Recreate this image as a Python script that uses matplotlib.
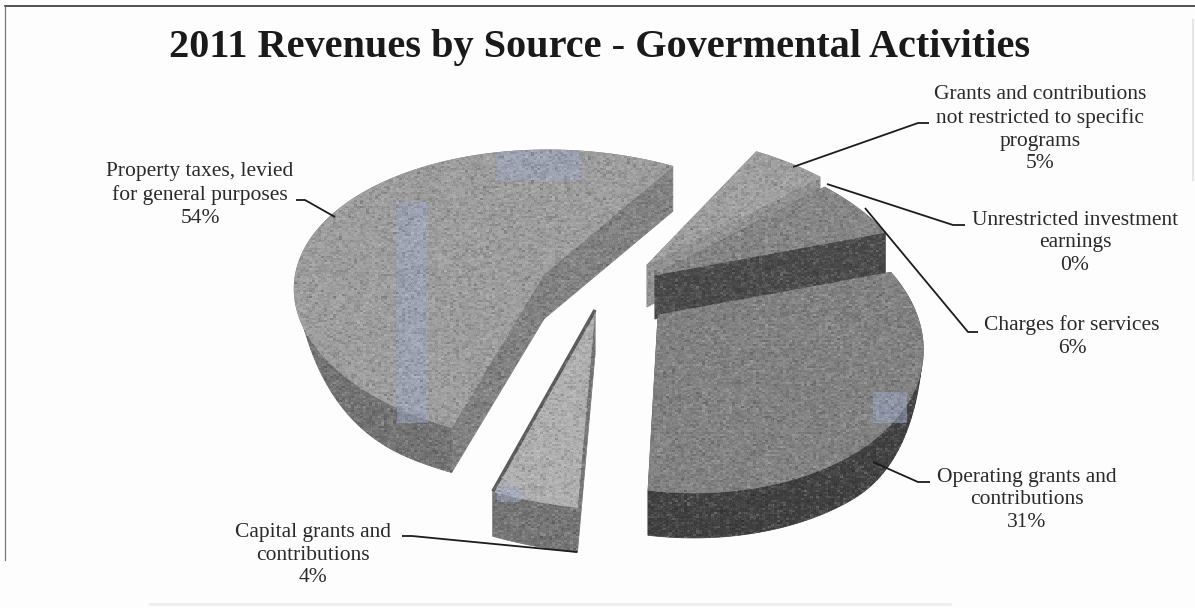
import numpy as np
import matplotlib
matplotlib.use("Agg")
import matplotlib.pyplot as plt
from matplotlib.patches import Polygon
from matplotlib.path import Path

# Revenue shares, clockwise from the lower edge of the operating grants slice
sources = ["Capital grants", "Property taxes", "Grants unrestricted",
           "Investment earnings", "Charges for services", "Operating grants"]
shares = [4, 54, 5, 0, 6, 31]

title = "2011 Revenues by Source - Govermental Activities"
labels = {
    "Grants unrestricted": "Grants and contributions\nnot restricted to specific\nprograms\n5%",
    "Investment earnings": "Unrestricted investment\nearnings\n0%",
    "Charges for services": "Charges for services\n6%",
    "Operating grants": "Operating grants and\ncontributions\n31%",
    "Capital grants": "Capital grants and\ncontributions\n4%",
    "Property taxes": "Property taxes, levied\nfor general purposes\n54%",
}
label_pos = {
    "Grants unrestricted": (1040, 129),
    "Investment earnings": (1075, 243),
    "Charges for services": (1072, 337),
    "Operating grants": (1027, 500),
    "Capital grants": (313, 555),
    "Property taxes": (200, 195),
}
leaders = {
    "Grants unrestricted": [(793, 167), (918, 123), (929, 123)],
    "Investment earnings": [(827, 184), (953, 225), (965, 225)],
    "Charges for services": [(865, 208), (968, 332), (978, 332)],
    "Operating grants": [(873, 462), (918, 482), (930, 482)],
    "Capital grants": [(402, 536), (412, 536), (577, 552)],
    "Property taxes": [(296, 200), (305, 200), (335, 217)],
}

# Exploded apex of each slice, its local stretch of the disc, its wall depth
apex = {
    "Capital grants": (595, 310),
    "Property taxes": (544, 274),
    "Grants unrestricted": (647, 265),
    "Charges for services": (655, 275),
    "Operating grants": (658, 315),
}
warp = {
    "Capital grants": ((1.22, -0.10), (0.0, 1.126)),
    "Property taxes": ((1.071, -0.104), (0.007, 0.957)),
    "Grants unrestricted": ((1.0, 0.0), (0.0, 1.0)),
    "Charges for services": ((0.98, 0.0), (0.0, 1.0)),
    "Operating grants": ((0.98, -0.057), (0.0, 1.0)),
}
depth = {
    "Capital grants": 45,
    "Property taxes": 45,
    "Grants unrestricted": 42,
    "Charges for services": 44,
    "Operating grants": 45,
}
# top face, radial wall, rim wall
colours = {
    "Capital grants": ("#b0b0b0", "#767676", "#747474"),
    "Property taxes": ("#9e9e9e", "#828282", "#727272"),
    "Grants unrestricted": ("#a0a0a0", "#929292", "#8a8a8a"),
    "Charges for services": ("#868686", "#4a4a4a", "#6e6e6e"),
    "Operating grants": ("#828282", "#505050", "#404040"),
}
paint_order = ["Property taxes", "Grants unrestricted", "Charges for services",
               "Capital grants", "Operating grants"]

A, C, D = 248, 14, 149   # disc axes on screen
PX, PY = 0.08, 0.15      # perspective foreshortening
TAPER_FROM, TAPER_LEN = 55, 85   # rim walls fade out towards the sides of the disc


def disc(phi):
    """Project disc angles (radians, clockwise on screen) to pixel offsets."""
    x, y = np.cos(phi), np.sin(phi)
    w = 1 / (1 - PX * x - PY * y)
    return np.column_stack([A * x * w, (C * x + D * y) * w])


def taper(offset):
    t = np.clip((offset - TAPER_FROM) / TAPER_LEN, 0, 1)
    return np.sin(t * np.pi / 2)


W, H = 1195, 608
fig = plt.figure(figsize=(W / 100, H / 100), dpi=100, facecolor="#fdfdfd")
ax = fig.add_axes([0, 0, 1, 1])
ax.set_xlim(0, W)
ax.set_ylim(H, 0)
ax.axis("off")

# Slice angles follow from the shares
end_angle = np.cumsum(shares) / sum(shares) * 360 + 90
start_angle = end_angle - np.array(shares) / sum(shares) * 360
spans = {s: (a, b) for s, a, b in zip(sources, start_angle, end_angle)}


def add_to_mask(mask, poly):
    poly = np.asarray(poly)
    x0, y0 = np.floor(poly.min(axis=0)).astype(int)
    x1, y1 = np.ceil(poly.max(axis=0)).astype(int) + 1
    x0, y0, x1, y1 = max(x0, 0), max(y0, 0), min(x1, W), min(y1, H)
    gx, gy = np.meshgrid(np.arange(x0, x1) + 0.5, np.arange(y0, y1) + 0.5)
    inside = Path(poly).contains_points(np.column_stack([gx.ravel(), gy.ravel()]))
    mask[y0:y1, x0:x1] |= inside.reshape(gx.shape)


slice_mask = {}
z = 2
for name in paint_order:
    a0, a1 = spans[name]
    rim = disc(np.radians(np.linspace(a0, a1, max(int(a1 - a0), 4))))
    rim = np.array(apex[name]) + rim @ np.array(warp[name]).T
    centre = np.array(apex[name], dtype=float)
    top, edge, rim_col = colours[name]
    drop = np.array([0, depth[name]])
    rim_drop = [drop * taper(p[1] - centre[1]) for p in rim]
    quads = [([p, q, q + drop, p + drop], edge)
             for p, q in ((centre, rim[0]), (rim[-1], centre))]
    quads += [([p, q, q + dq, p + dp], rim_col)
              for p, q, dp, dq in zip(rim[:-1], rim[1:], rim_drop[:-1], rim_drop[1:])]
    quads.sort(key=lambda t: np.mean([v[1] for v in t[0]]))
    mask = np.zeros((H, W), dtype=bool)
    for pts, col in quads:
        ax.add_patch(Polygon(pts, closed=True, fc=col, ec=col, lw=0.5, zorder=z))
        add_to_mask(mask, pts)
    outline = np.vstack([centre, rim])
    ax.add_patch(Polygon(outline, closed=True, fc=top, ec=top, lw=0.5, zorder=z + 0.5))
    add_to_mask(mask, outline)
    slice_mask[name] = mask
    if name == "Capital grants":
        # the narrow slice shows a dark sliver along its left edge
        ax.plot([centre[0], rim[-1][0]], [centre[1], rim[-1][1]], color="#5c5c5c",
                lw=2.5, zorder=z + 0.6, solid_capstyle="butt")
    z += 1

solid = np.any(list(slice_mask.values()), axis=0)

# Bluish smudges lying on the slices
smudges = [("Property taxes", 397, 202, 31, 221),
           ("Property taxes", 497, 150, 84, 30),
           ("Operating grants", 873, 392, 34, 31),
           ("Capital grants", 497, 487, 24, 15)]
tint = np.zeros((H, W, 4))
for name, x, y, w, h in smudges:
    box = np.zeros((H, W), dtype=bool)
    box[y:y + h, x:x + w] = True
    box &= slice_mask[name]
    tint[box] = (0.62, 0.66, 0.78, 0.55)
ax.imshow(tint, extent=(0, W, H, 0), zorder=9, interpolation="nearest", aspect="auto")

# Scanner grain over the solids, coarser along the scan lines
rng = np.random.default_rng(11)
coarse = rng.normal(0, 1, (H // 2 + 1, W // 3 + 1))
grain = np.repeat(np.repeat(coarse, 2, axis=0), 3, axis=1)[:H, :W]
grain += 0.5 * rng.normal(0, 1, (H, W))
overlay = np.zeros((H, W, 4))
overlay[..., :3] = (grain > 0)[..., None]
overlay[..., 3] = np.clip(np.abs(grain) * 0.07, 0, 0.22) * solid
ax.imshow(overlay, extent=(0, W, H, 0), zorder=10, interpolation="bilinear", aspect="auto")
ax.set_xlim(0, W)
ax.set_ylim(H, 0)

# Leader lines and labels
ink = "#1c1c1c"
for name, pts in leaders.items():
    xs, ys = zip(*pts)
    ax.plot(xs, ys, color=ink, lw=1.3, zorder=12, solid_capstyle="butt")
for name, text in labels.items():
    x, y = label_pos[name]
    ax.text(x, y, text, ha="center", va="center", family="Liberation Serif",
            fontsize=15.5, color="#2a2a2a", linespacing=1.28, zorder=13)

ax.text(599.5, 57, title, ha="center", va="baseline", family="Liberation Serif",
        fontweight="bold", fontsize=29, color="#1a1a1a", zorder=13)

# Page frame
ax.plot([5, W], [6, 6], color="#333333", lw=1.2, zorder=1)
ax.plot([5, 5], [6, 560], color="#777777", lw=0.9, zorder=1)
ax.plot([1193, 1193], [20, 180], color="#e6e6e6", lw=1.5, zorder=1)
ax.plot([150, 950], [604, 604], color="#eeeeee", lw=2, zorder=1)

fig.savefig("out.png", dpi=100, facecolor=fig.get_facecolor())
